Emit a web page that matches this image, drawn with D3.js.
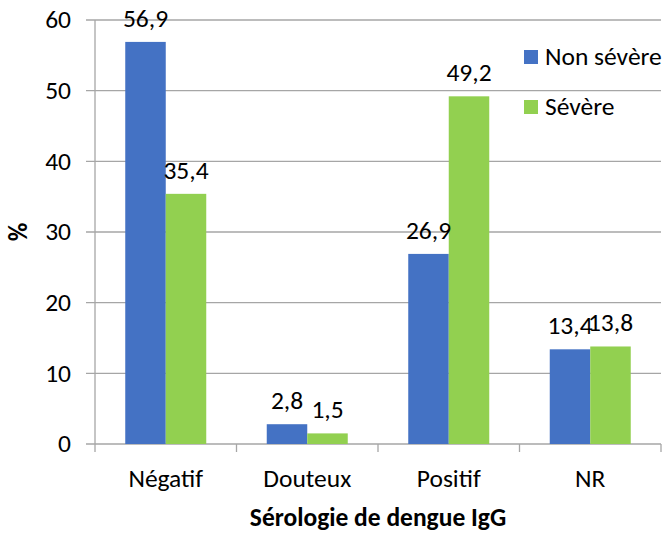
<!DOCTYPE html>
<html>
<head>
<meta charset="utf-8">
<script src="https://d3js.org/d3.v7.min.js"></script>
<style>
body { margin:0; background:#fff; }
svg text { font-family: Carlito, Lato, "Open Sans", sans-serif; fill:#000; }
</style>
</head>
<body>
<svg id="viz" width="668" height="535"></svg>
<script>
var categories = ["Négatif", "Douteux", "Positif", "NR"];
var series = ["Non sévère", "Sévère"];
var nonSevere = [56.9, 2.8, 26.9, 13.4];
var severe = [35.4, 1.5, 49.2, 13.8];
var yTicks = [0, 10, 20, 30, 40, 50, 60];
var colors = ["#4472C4", "#92D050"];

var svg = d3.select("#viz");
var plotL = 95, plotR = 661, plotT = 20, plotB = 444;
var fs = "25.5px";

var x = d3.scaleBand().domain(categories).range([plotL, plotR]);
var groupW = 81;
var xs = d3.scaleBand().domain(series).range([0, groupW]);
var y = d3.scaleLinear().domain([0, 60]).range([plotB, plotT]);

// gridlines + tick stubs
svg.append("g").selectAll("line").data(yTicks).enter().append("line")
	.attr("x1", plotL - 9).attr("x2", plotR)
	.attr("y1", function (d) { return y(d); }).attr("y2", function (d) { return y(d); })
	.attr("stroke", "#a6a6a6").attr("stroke-width", 1.3);

// y axis labels
svg.append("g").selectAll("text").data(yTicks).enter().append("text")
	.attr("x", 71).attr("y", function (d) { return y(d); })
	.attr("dy", "0.33em").attr("text-anchor", "end")
	.style("font-size", fs).text(function (d) { return d; });

// y axis line
svg.append("line").attr("x1", plotL).attr("x2", plotL).attr("y1", plotT).attr("y2", plotB)
	.attr("stroke", "#a6a6a6").attr("stroke-width", 1.3);

// x axis ticks
var xEdges = categories.map(function (c) { return x(c); }).concat([plotR]);
svg.append("g").selectAll("line").data(xEdges).enter().append("line")
	.attr("x1", function (d) { return d; }).attr("x2", function (d) { return d; })
	.attr("y1", plotB).attr("y2", plotB + 8)
	.attr("stroke", "#a6a6a6").attr("stroke-width", 1.3);

var data = [];
categories.forEach(function (c, i) {
	data.push({cat: c, s: series[0], v: nonSevere[i], col: colors[0]});
	data.push({cat: c, s: series[1], v: severe[i], col: colors[1]});
});
var off = (x.bandwidth() - groupW) / 2;

svg.append("g").selectAll("rect").data(data).enter().append("rect")
	.attr("x", function (d) { return x(d.cat) + off + xs(d.s); })
	.attr("width", xs.bandwidth())
	.attr("y", function (d) { return y(d.v); })
	.attr("height", function (d) { return plotB - y(d.v); })
	.attr("fill", function (d) { return d.col; });

svg.append("g").selectAll("text").data(data).enter().append("text")
	.attr("x", function (d) { return x(d.cat) + off + xs(d.s) + xs.bandwidth() / 2; })
	.attr("y", function (d) { return y(d.v) - 15; })
	.attr("text-anchor", "middle").style("font-size", fs)
	.text(function (d) { return d.v.toFixed(1).replace(".", ","); });

// category labels
svg.append("g").selectAll("text").data(categories).enter().append("text")
	.attr("x", function (d) { return x(d) + x.bandwidth() / 2; })
	.attr("y", 487).attr("text-anchor", "middle").style("font-size", fs)
	.text(function (d) { return d; });

// axis titles
svg.append("text").attr("x", 378).attr("y", 526).attr("text-anchor", "middle")
	.style("font-size", fs).style("font-weight", "bold").text("Sérologie de dengue IgG");
svg.append("text").attr("transform", "translate(27,232)rotate(-90)").attr("text-anchor", "middle")
	.style("font-size", fs).style("font-weight", "bold").text("%");

// legend
var leg = svg.append("g").selectAll("g").data(series).enter().append("g")
	.attr("transform", function (d, i) { return "translate(524," + (50 + i * 50) + ")"; });
leg.append("rect").attr("width", 14).attr("height", 14)
	.attr("fill", function (d, i) { return colors[i]; });
leg.append("text").attr("x", 21).attr("y", 7).attr("dy", "0.33em")
	.style("font-size", fs).text(function (d) { return d; });
</script>
</body>
</html>
